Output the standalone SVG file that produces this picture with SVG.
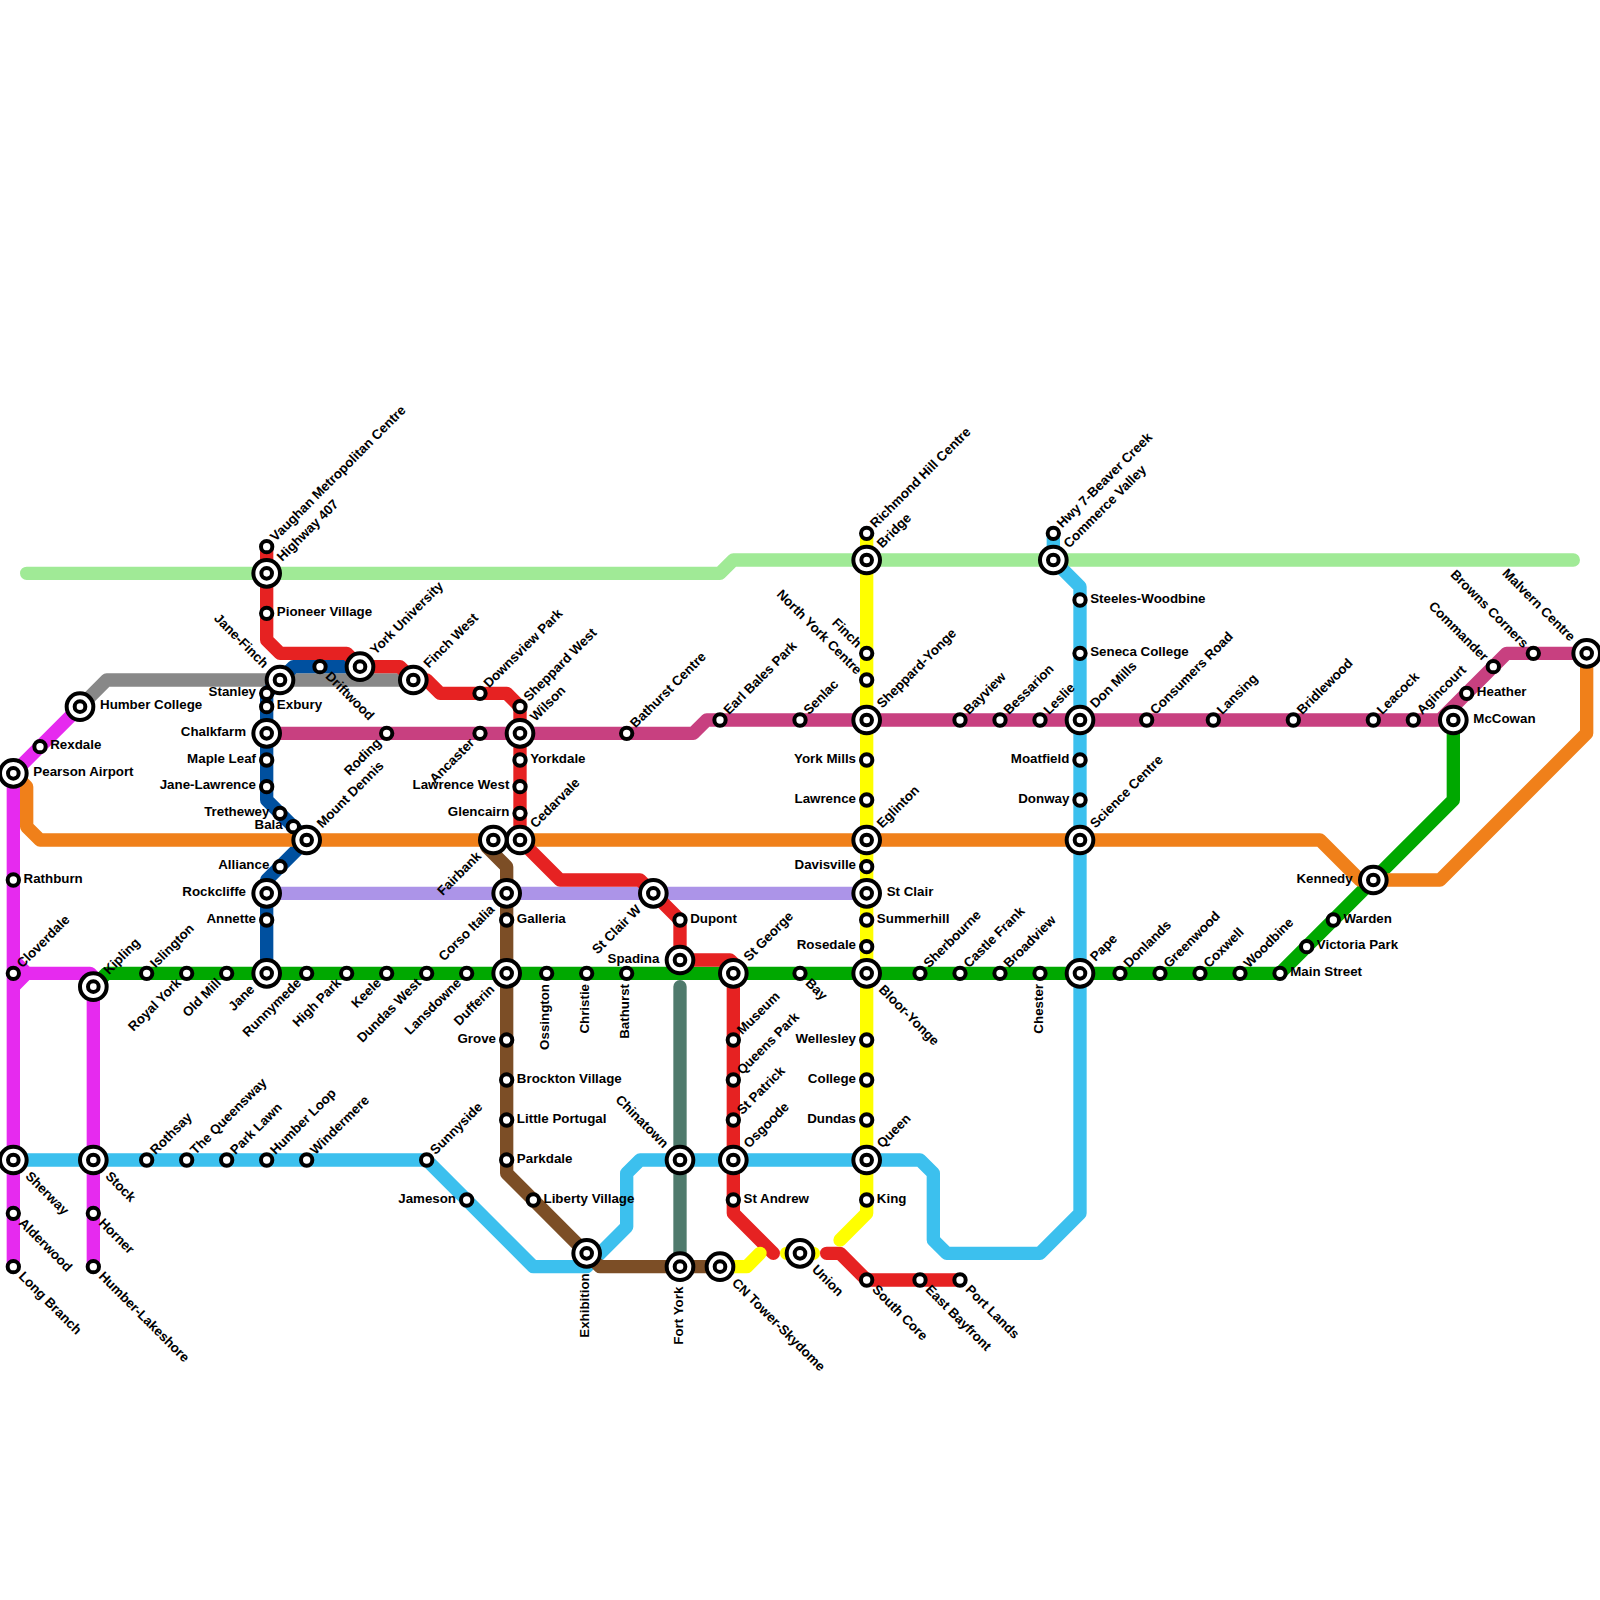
<svg xmlns="http://www.w3.org/2000/svg" width="1600" height="1600" viewBox="0 0 1600 1600">
<style>
text{font-family:"Liberation Sans",Arial,sans-serif;font-weight:700;font-size:13.33px;fill:#000}
.l{fill:none;stroke-width:13.33;stroke-linejoin:round;stroke-linecap:round}
.o{fill:#fff;stroke:#000;stroke-width:4}
.e{text-anchor:end}
.lime{stroke:#a0ea96}.gray{stroke:#888}.blue{stroke:#00509f}.red{stroke:#e62222}.mag{stroke:#e62aef}.grn{stroke:#00a800}.sky{stroke:#3cc0ee}.yel{stroke:#ff0}.org{stroke:#f0801a}.pink{stroke:#c84080}.lil{stroke:#ac94e8}.brn{stroke:#7c4e26}.teal{stroke:#4f7a6c}
</style>
<defs>
<g id="s"><circle class="o" r="5.67"/></g>
<g id="b"><circle class="o" r="13.33"/><circle class="o" r="5.33"/></g>
</defs>
<rect width="1600" height="1600" fill="#fff"/>
<g id="connectors">
<path class="l lime" d="M26.67 573.33H720L733.33 560H1573.33"/>
<path class="l gray" d="M80 706.67L106.67 680H413.33"/>
<path class="l blue" d="M360 666.67H293.33L266.67 693.33V800L306.67 840L266.67 880V973.33"/>
<path class="l grn" d="M93.33 986.67L106.67 973.33H1280L1453.33 800V720"/>
<path class="l lil" d="M266.67 893.33H866.67"/>
<path class="l pink" d="M266.67 733.33H693.33L706.67 720H1453.33M1440 720L1506.67 653.33H1586.67"/>
<path class="l org" d="M13.33 773.33L26.67 786.67V826.67L40 840H1320L1360 880H1440L1586.67 733.33V653.33"/>
<path class="l mag" d="M80 706.67L13.33 773.33V1266.67M13.33 986.67L26.67 973.33H90L93.33 976.67V1266.67M13.33 960L26.67 973.33"/>
<path class="l sky" d="M13.33 1160H426.67L533.33 1266.67H586.67L626.67 1226.67V1173.33L640 1160H920L933.33 1173.33V1240L946.67 1253.33H1040L1080 1213.33V586.67L1053.33 560V533.33"/>
<path class="l teal" d="M680 986.67V1266.67"/>
<path class="l brn" d="M486.67 846.67L506.67 866.67V1173.33L600 1266.67H720"/>
<path class="l red" d="M266.67 546.67V640L280 653.33H346.67L360 666.67H400L413.33 680H426.67L440 693.33H506.67L520 706.67V840L560 880H640L680 920V960H730L733.33 963.33V1213.33L773.33 1253.33M826.67 1253.33H840L866.67 1280H960"/>
<path class="l yel" d="M866.67 533.33V1213.33L840 1240M720 1266.67H746.67L760 1253.33M786.67 1253.33H813.33"/>
</g>
<g id="nodes">
<g id="n1" transform="translate(266.67 546.67)"><use href="#s"/><text x="9.67" y="3" transform="rotate(-45)">Vaughan Metropolitan Centre</text></g>
<g id="n2" transform="translate(266.67 573.33)"><use href="#b"/><text x="19" y="3" transform="rotate(-45)">Highway 407</text></g>
<g id="n3" transform="translate(266.67 613.33)"><use href="#s"/><text x="10.2" y="2.5">Pioneer Village</text></g>
<g id="n4" transform="translate(280 680)"><use href="#b"/><text class="e" x="-20" y="4" transform="rotate(45)">Jane-Finch</text></g>
<g id="n5" transform="translate(320 666.67)"><use href="#s"/><text x="10.67" y="4" transform="rotate(45)">Driftwood</text></g>
<g id="n6" transform="translate(360 666.67)"><use href="#b"/><text x="19" y="3" transform="rotate(-45)">York University</text></g>
<g id="n7" transform="translate(413.33 680)"><use href="#b"/><text x="19" y="3" transform="rotate(-45)">Finch West</text></g>
<g id="n8" transform="translate(480 693.33)"><use href="#s"/><text x="9.67" y="3" transform="rotate(-45)">Downsview Park</text></g>
<g id="n9" transform="translate(520 706.67)"><use href="#s"/><text x="9.67" y="3" transform="rotate(-45)">Sheppard West</text></g>
<g id="n10" transform="translate(520 733.33)"><use href="#b"/><text x="19" y="3" transform="rotate(-45)">Wilson</text></g>
<g id="n11" transform="translate(480 733.33)"><use href="#s"/><text class="e" x="-10.67" y="4" transform="rotate(-45)">Ancaster</text></g>
<g id="n12" transform="translate(386.67 733.33)"><use href="#s"/><text class="e" x="-10.67" y="4" transform="rotate(-45)">Roding</text></g>
<g id="n13" transform="translate(266.67 733.33)"><use href="#b"/><text class="e" x="-20.67" y="2.5">Chalkfarm</text></g>
<g id="n14" transform="translate(520 760)"><use href="#s"/><text x="10.2" y="2.5">Yorkdale</text></g>
<g id="n15" transform="translate(520 786.67)"><use href="#s"/><text class="e" x="-10.67" y="2.5">Lawrence West</text></g>
<g id="n16" transform="translate(520 813.33)"><use href="#s"/><text class="e" x="-10.67" y="2.5">Glencairn</text></g>
<g id="n17" transform="translate(520 840)"><use href="#b"/><text x="19" y="3" transform="rotate(-45)">Cedarvale</text></g>
<g id="n18" transform="translate(493.33 840)"><use href="#b"/><text class="e" x="-20" y="4" transform="rotate(-45)">Fairbank</text></g>
<g id="n19" transform="translate(506.67 893.33)"><use href="#b"/><text class="e" x="-20" y="4" transform="rotate(-45)">Corso Italia</text></g>
<g id="n20" transform="translate(506.67 920)"><use href="#s"/><text x="10.2" y="2.5">Galleria</text></g>
<g id="n21" transform="translate(653.33 893.33)"><use href="#b"/><text class="e" x="-20" y="4" transform="rotate(-45)">St Clair W</text></g>
<g id="n22" transform="translate(680 920)"><use href="#s"/><text x="10.2" y="2.5">Dupont</text></g>
<g id="n23" transform="translate(680 960)"><use href="#b"/><text class="e" x="-20.67" y="2.5">Spadina</text></g>
<g id="n24" transform="translate(733.33 973.33)"><use href="#b"/><text x="19" y="3" transform="rotate(-45)">St George</text></g>
<g id="n25" transform="translate(733.33 1040)"><use href="#s"/><text x="9.67" y="3" transform="rotate(-45)">Museum</text></g>
<g id="n26" transform="translate(733.33 1080)"><use href="#s"/><text x="9.67" y="3" transform="rotate(-45)">Queens Park</text></g>
<g id="n27" transform="translate(733.33 1120)"><use href="#s"/><text x="9.67" y="3" transform="rotate(-45)">St Patrick</text></g>
<g id="n28" transform="translate(733.33 1160)"><use href="#b"/><text x="19" y="3" transform="rotate(-45)">Osgoode</text></g>
<g id="n29" transform="translate(733.33 1200)"><use href="#s"/><text x="10.2" y="2.5">St Andrew</text></g>
<g id="n30" transform="translate(800 1253.33)"><use href="#b"/><text x="20" y="4" transform="rotate(45)">Union</text></g>
<g id="n31" transform="translate(720 1266.67)"><use href="#b"/><text x="20" y="4" transform="rotate(45)">CN Tower-Skydome</text></g>
<g id="n32" transform="translate(866.67 1280)"><use href="#s"/><text x="10.67" y="4" transform="rotate(45)">South Core</text></g>
<g id="n33" transform="translate(920 1280)"><use href="#s"/><text x="10.67" y="4" transform="rotate(45)">East Bayfront</text></g>
<g id="n34" transform="translate(960 1280)"><use href="#s"/><text x="10.67" y="4" transform="rotate(45)">Port Lands</text></g>
<g id="n35" transform="translate(680 1266.67)"><use href="#b"/><text class="e" x="-20" y="2.5" transform="rotate(-90)">Fort York</text></g>
<g id="n36" transform="translate(586.67 1253.33)"><use href="#b"/><text class="e" x="-20" y="2.5" transform="rotate(-90)">Exhibition</text></g>
<g id="n37" transform="translate(680 1160)"><use href="#b"/><text class="e" x="-20" y="4" transform="rotate(45)">Chinatown</text></g>
<g id="n38" transform="translate(533.33 1200)"><use href="#s"/><text x="10.2" y="2.5">Liberty Village</text></g>
<g id="n39" transform="translate(506.67 1160)"><use href="#s"/><text x="10.2" y="2.5">Parkdale</text></g>
<g id="n40" transform="translate(506.67 1120)"><use href="#s"/><text x="10.2" y="2.5">Little Portugal</text></g>
<g id="n41" transform="translate(506.67 1080)"><use href="#s"/><text x="10.2" y="2.5">Brockton Village</text></g>
<g id="n42" transform="translate(506.67 1040)"><use href="#s"/><text class="e" x="-10.67" y="2.5">Grove</text></g>
<g id="n43" transform="translate(506.67 973.33)"><use href="#b"/><text class="e" x="-20" y="4" transform="rotate(-45)">Dufferin</text></g>
<g id="n44" transform="translate(466.67 973.33)"><use href="#s"/><text class="e" x="-10.67" y="4" transform="rotate(-45)">Lansdowne</text></g>
<g id="n45" transform="translate(426.67 973.33)"><use href="#s"/><text class="e" x="-10.67" y="4" transform="rotate(-45)">Dundas West</text></g>
<g id="n46" transform="translate(386.67 973.33)"><use href="#s"/><text class="e" x="-10.67" y="4" transform="rotate(-45)">Keele</text></g>
<g id="n47" transform="translate(346.67 973.33)"><use href="#s"/><text class="e" x="-10.67" y="4" transform="rotate(-45)">High Park</text></g>
<g id="n48" transform="translate(306.67 973.33)"><use href="#s"/><text class="e" x="-10.67" y="4" transform="rotate(-45)">Runnymede</text></g>
<g id="n49" transform="translate(266.67 973.33)"><use href="#b"/><text class="e" x="-20" y="4" transform="rotate(-45)">Jane</text></g>
<g id="n50" transform="translate(226.67 973.33)"><use href="#s"/><text class="e" x="-10.67" y="4" transform="rotate(-45)">Old Mill</text></g>
<g id="n51" transform="translate(186.67 973.33)"><use href="#s"/><text class="e" x="-10.67" y="4" transform="rotate(-45)">Royal York</text></g>
<g id="n52" transform="translate(146.67 973.33)"><use href="#s"/><text x="9.67" y="3" transform="rotate(-45)">Islington</text></g>
<g id="n53" transform="translate(93.33 986.67)"><use href="#b"/><text x="19" y="3" transform="rotate(-45)">Kipling</text></g>
<g id="n54" transform="translate(13.33 973.33)"><use href="#s"/><text x="9.67" y="3" transform="rotate(-45)">Cloverdale</text></g>
<g id="n55" transform="translate(13.33 880)"><use href="#s"/><text x="10.2" y="2.5">Rathburn</text></g>
<g id="n56" transform="translate(13.33 773.33)"><use href="#b"/><text x="20" y="2.5">Pearson Airport</text></g>
<g id="n57" transform="translate(40 746.67)"><use href="#s"/><text x="10.2" y="2.5">Rexdale</text></g>
<g id="n58" transform="translate(80 706.67)"><use href="#b"/><text x="20" y="2.5">Humber College</text></g>
<g id="n59" transform="translate(266.67 693.33)"><use href="#s"/><text class="e" x="-10.67" y="2.5">Stanley</text></g>
<g id="n60" transform="translate(266.67 706.67)"><use href="#s"/><text x="10.2" y="2.5">Exbury</text></g>
<g id="n61" transform="translate(266.67 760)"><use href="#s"/><text class="e" x="-10.67" y="2.5">Maple Leaf</text></g>
<g id="n62" transform="translate(266.67 786.67)"><use href="#s"/><text class="e" x="-10.67" y="2.5">Jane-Lawrence</text></g>
<g id="n63" transform="translate(280 813.33)"><use href="#s"/><text class="e" x="-10.67" y="2.5">Trethewey</text></g>
<g id="n64" transform="translate(293.33 826.67)"><use href="#s"/><text class="e" x="-10.67" y="2.5">Bala</text></g>
<g id="n65" transform="translate(306.67 840)"><use href="#b"/><text x="19" y="3" transform="rotate(-45)">Mount Dennis</text></g>
<g id="n66" transform="translate(280 866.67)"><use href="#s"/><text class="e" x="-10.67" y="2.5">Alliance</text></g>
<g id="n67" transform="translate(266.67 893.33)"><use href="#b"/><text class="e" x="-20.67" y="2.5">Rockcliffe</text></g>
<g id="n68" transform="translate(266.67 920)"><use href="#s"/><text class="e" x="-10.67" y="2.5">Annette</text></g>
<g id="n69" transform="translate(13.33 1160)"><use href="#b"/><text x="20" y="4" transform="rotate(45)">Sherway</text></g>
<g id="n70" transform="translate(13.33 1213.33)"><use href="#s"/><text x="10.67" y="4" transform="rotate(45)">Alderwood</text></g>
<g id="n71" transform="translate(13.33 1266.67)"><use href="#s"/><text x="10.67" y="4" transform="rotate(45)">Long Branch</text></g>
<g id="n72" transform="translate(93.33 1160)"><use href="#b"/><text x="20" y="4" transform="rotate(45)">Stock</text></g>
<g id="n73" transform="translate(93.33 1213.33)"><use href="#s"/><text x="10.67" y="4" transform="rotate(45)">Horner</text></g>
<g id="n74" transform="translate(93.33 1266.67)"><use href="#s"/><text x="10.67" y="4" transform="rotate(45)">Humber-Lakeshore</text></g>
<g id="n75" transform="translate(146.67 1160)"><use href="#s"/><text x="9.67" y="3" transform="rotate(-45)">Rothsay</text></g>
<g id="n76" transform="translate(186.67 1160)"><use href="#s"/><text x="9.67" y="3" transform="rotate(-45)">The Queensway</text></g>
<g id="n77" transform="translate(226.67 1160)"><use href="#s"/><text x="9.67" y="3" transform="rotate(-45)">Park Lawn</text></g>
<g id="n78" transform="translate(266.67 1160)"><use href="#s"/><text x="9.67" y="3" transform="rotate(-45)">Humber Loop</text></g>
<g id="n79" transform="translate(306.67 1160)"><use href="#s"/><text x="9.67" y="3" transform="rotate(-45)">Windermere</text></g>
<g id="n80" transform="translate(426.67 1160)"><use href="#s"/><text x="9.67" y="3" transform="rotate(-45)">Sunnyside</text></g>
<g id="n81" transform="translate(466.67 1200)"><use href="#s"/><text class="e" x="-10.67" y="2.5">Jameson</text></g>
<g id="n82" transform="translate(626.67 973.33)"><use href="#s"/><text class="e" x="-10.67" y="2.5" transform="rotate(-90)">Bathurst</text></g>
<g id="n83" transform="translate(586.67 973.33)"><use href="#s"/><text class="e" x="-10.67" y="2.5" transform="rotate(-90)">Christie</text></g>
<g id="n84" transform="translate(546.67 973.33)"><use href="#s"/><text class="e" x="-10.67" y="2.5" transform="rotate(-90)">Ossington</text></g>
<g id="n85" transform="translate(800 973.33)"><use href="#s"/><text x="10.67" y="4" transform="rotate(45)">Bay</text></g>
<g id="n86" transform="translate(866.67 973.33)"><use href="#b"/><text x="20" y="4" transform="rotate(45)">Bloor-Yonge</text></g>
<g id="n87" transform="translate(920 973.33)"><use href="#s"/><text x="9.67" y="3" transform="rotate(-45)">Sherbourne</text></g>
<g id="n88" transform="translate(960 973.33)"><use href="#s"/><text x="9.67" y="3" transform="rotate(-45)">Castle Frank</text></g>
<g id="n89" transform="translate(1000 973.33)"><use href="#s"/><text x="9.67" y="3" transform="rotate(-45)">Broadview</text></g>
<g id="n90" transform="translate(1040 973.33)"><use href="#s"/><text class="e" x="-10.67" y="2.5" transform="rotate(-90)">Chester</text></g>
<g id="n91" transform="translate(1080 973.33)"><use href="#b"/><text x="19" y="3" transform="rotate(-45)">Pape</text></g>
<g id="n92" transform="translate(1120 973.33)"><use href="#s"/><text x="9.67" y="3" transform="rotate(-45)">Donlands</text></g>
<g id="n93" transform="translate(1160 973.33)"><use href="#s"/><text x="9.67" y="3" transform="rotate(-45)">Greenwood</text></g>
<g id="n94" transform="translate(1200 973.33)"><use href="#s"/><text x="9.67" y="3" transform="rotate(-45)">Coxwell</text></g>
<g id="n95" transform="translate(1240 973.33)"><use href="#s"/><text x="9.67" y="3" transform="rotate(-45)">Woodbine</text></g>
<g id="n96" transform="translate(1280 973.33)"><use href="#s"/><text x="10.2" y="2.5">Main Street</text></g>
<g id="n97" transform="translate(1306.67 946.67)"><use href="#s"/><text x="10.2" y="2.5">Victoria Park</text></g>
<g id="n98" transform="translate(1333.33 920)"><use href="#s"/><text x="10.2" y="2.5">Warden</text></g>
<g id="n99" transform="translate(1373.33 880)"><use href="#b"/><text class="e" x="-20.67" y="2.5">Kennedy</text></g>
<g id="n100" transform="translate(1453.33 720)"><use href="#b"/><text x="20" y="2.5">McCowan</text></g>
<g id="n101" transform="translate(1466.67 693.33)"><use href="#s"/><text x="10.2" y="2.5">Heather</text></g>
<g id="n102" transform="translate(1493.33 666.67)"><use href="#s"/><text class="e" x="-10.67" y="4" transform="rotate(45)">Commander</text></g>
<g id="n103" transform="translate(1533.33 653.33)"><use href="#s"/><text class="e" x="-10.67" y="4" transform="rotate(45)">Browns Corners</text></g>
<g id="n104" transform="translate(1586.67 653.33)"><use href="#b"/><text class="e" x="-20" y="4" transform="rotate(45)">Malvern Centre</text></g>
<g id="n105" transform="translate(1413.33 720)"><use href="#s"/><text x="9.67" y="3" transform="rotate(-45)">Agincourt</text></g>
<g id="n106" transform="translate(1373.33 720)"><use href="#s"/><text x="9.67" y="3" transform="rotate(-45)">Leacock</text></g>
<g id="n107" transform="translate(1293.33 720)"><use href="#s"/><text x="9.67" y="3" transform="rotate(-45)">Bridlewood</text></g>
<g id="n108" transform="translate(1213.33 720)"><use href="#s"/><text x="9.67" y="3" transform="rotate(-45)">Lansing</text></g>
<g id="n109" transform="translate(1146.67 720)"><use href="#s"/><text x="9.67" y="3" transform="rotate(-45)">Consumers Road</text></g>
<g id="n110" transform="translate(1080 720)"><use href="#b"/><text x="19" y="3" transform="rotate(-45)">Don Mills</text></g>
<g id="n111" transform="translate(1040 720)"><use href="#s"/><text x="9.67" y="3" transform="rotate(-45)">Leslie</text></g>
<g id="n112" transform="translate(1000 720)"><use href="#s"/><text x="9.67" y="3" transform="rotate(-45)">Bessarion</text></g>
<g id="n113" transform="translate(960 720)"><use href="#s"/><text x="9.67" y="3" transform="rotate(-45)">Bayview</text></g>
<g id="n114" transform="translate(866.67 720)"><use href="#b"/><text x="19" y="3" transform="rotate(-45)">Sheppard-Yonge</text></g>
<g id="n115" transform="translate(800 720)"><use href="#s"/><text x="9.67" y="3" transform="rotate(-45)">Senlac</text></g>
<g id="n116" transform="translate(720 720)"><use href="#s"/><text x="9.67" y="3" transform="rotate(-45)">Earl Bales Park</text></g>
<g id="n117" transform="translate(626.67 733.33)"><use href="#s"/><text x="9.67" y="3" transform="rotate(-45)">Bathurst Centre</text></g>
<g id="n118" transform="translate(866.67 560)"><use href="#b"/><text x="19" y="3" transform="rotate(-45)">Bridge</text></g>
<g id="n119" transform="translate(866.67 533.33)"><use href="#s"/><text x="9.67" y="3" transform="rotate(-45)">Richmond Hill Centre</text></g>
<g id="n120" transform="translate(866.67 653.33)"><use href="#s"/><text class="e" x="-10.67" y="4" transform="rotate(45)">Finch</text></g>
<g id="n121" transform="translate(866.67 680)"><use href="#s"/><text class="e" x="-10.67" y="4" transform="rotate(45)">North York Centre</text></g>
<g id="n122" transform="translate(866.67 760)"><use href="#s"/><text class="e" x="-10.67" y="2.5">York Mills</text></g>
<g id="n123" transform="translate(866.67 800)"><use href="#s"/><text class="e" x="-10.67" y="2.5">Lawrence</text></g>
<g id="n124" transform="translate(866.67 840)"><use href="#b"/><text x="19" y="3" transform="rotate(-45)">Eglinton</text></g>
<g id="n125" transform="translate(866.67 866.67)"><use href="#s"/><text class="e" x="-10.67" y="2.5">Davisville</text></g>
<g id="n126" transform="translate(866.67 893.33)"><use href="#b"/><text x="20" y="2.5">St Clair</text></g>
<g id="n127" transform="translate(866.67 920)"><use href="#s"/><text x="10.2" y="2.5">Summerhill</text></g>
<g id="n128" transform="translate(866.67 946.67)"><use href="#s"/><text class="e" x="-10.67" y="2.5">Rosedale</text></g>
<g id="n129" transform="translate(866.67 1040)"><use href="#s"/><text class="e" x="-10.67" y="2.5">Wellesley</text></g>
<g id="n130" transform="translate(866.67 1080)"><use href="#s"/><text class="e" x="-10.67" y="2.5">College</text></g>
<g id="n131" transform="translate(866.67 1120)"><use href="#s"/><text class="e" x="-10.67" y="2.5">Dundas</text></g>
<g id="n132" transform="translate(866.67 1160)"><use href="#b"/><text x="19" y="3" transform="rotate(-45)">Queen</text></g>
<g id="n133" transform="translate(866.67 1200)"><use href="#s"/><text x="10.2" y="2.5">King</text></g>
<g id="n134" transform="translate(1080 653.33)"><use href="#s"/><text x="10.2" y="2.5">Seneca College</text></g>
<g id="n135" transform="translate(1080 600)"><use href="#s"/><text x="10.2" y="2.5">Steeles-Woodbine</text></g>
<g id="n136" transform="translate(1080 760)"><use href="#s"/><text class="e" x="-10.67" y="2.5">Moatfield</text></g>
<g id="n137" transform="translate(1080 800)"><use href="#s"/><text class="e" x="-10.67" y="2.5">Donway</text></g>
<g id="n138" transform="translate(1080 840)"><use href="#b"/><text x="19" y="3" transform="rotate(-45)">Science Centre</text></g>
<g id="n139" transform="translate(1053.33 560)"><use href="#b"/><text x="19" y="3" transform="rotate(-45)">Commerce Valley</text></g>
<g id="n140" transform="translate(1053.33 533.33)"><use href="#s"/><text x="9.67" y="3" transform="rotate(-45)">Hwy 7-Beaver Creek</text></g>
</g>
</svg>
